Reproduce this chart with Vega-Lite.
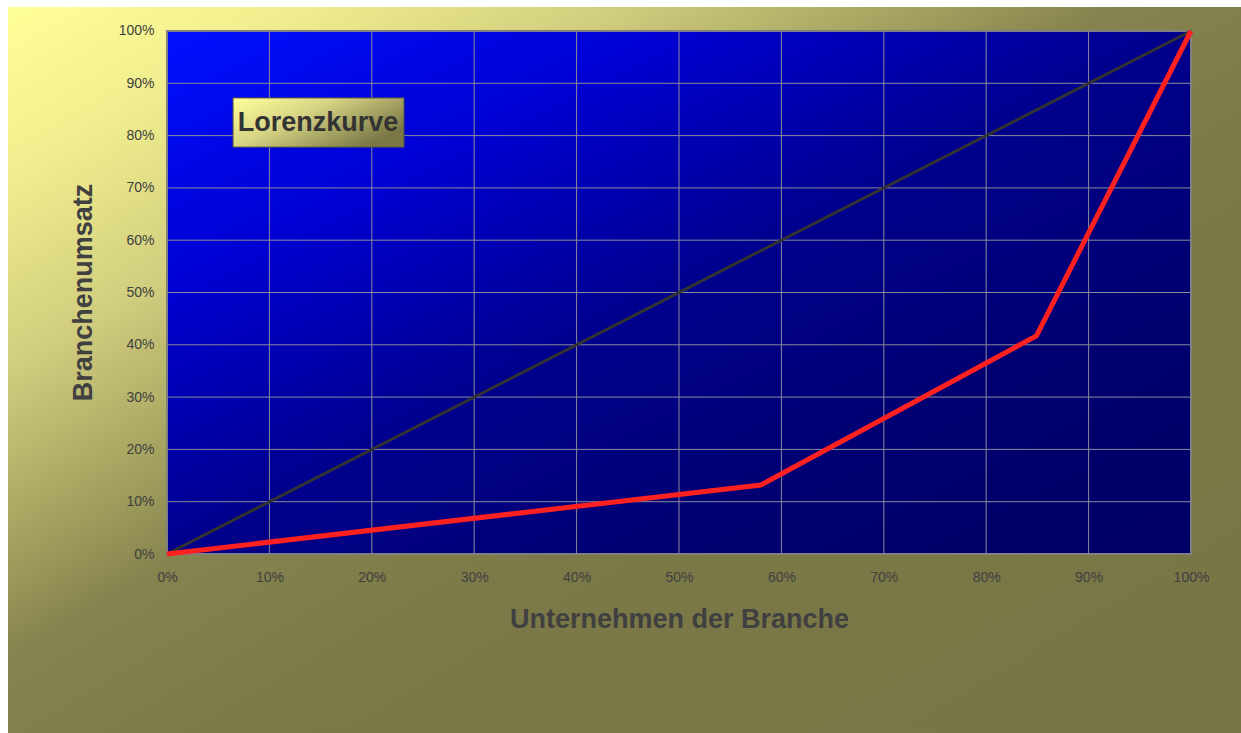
{
  "$schema": "https://vega.github.io/schema/vega-lite/v6.json",
  "width": 1233,
  "height": 726,
  "autosize": {"type": "none"},
  "padding": {"left": 8, "top": 7, "right": 0, "bottom": 0},
  "background": "#ffffff",
  "config": {
    "view": {
      "stroke": null,
      "fill": {
        "gradient": "linear", "x1": 0, "y1": 0, "x2": 1, "y2": 1,
        "stops": [
          {"offset": 0, "color": "#ffff99"},
          {"offset": 0.12, "color": "#f0ed8e"},
          {"offset": 0.25, "color": "#d0cd7e"},
          {"offset": 0.36, "color": "#a8a562"},
          {"offset": 0.45, "color": "#85834e"},
          {"offset": 0.6, "color": "#7b7947"},
          {"offset": 1, "color": "#777545"}
        ]
      }
    },
    "font": "Liberation Sans"
  },
  "datasets": {
    "grid": [{"v": 0.1}, {"v": 0.2}, {"v": 0.3}, {"v": 0.4}, {"v": 0.5}, {"v": 0.6}, {"v": 0.7}, {"v": 0.8}, {"v": 0.9}],
    "lorenz": [{"x": 0, "y": 0}, {"x": 0.58, "y": 0.132}, {"x": 0.849, "y": 0.417}, {"x": 1, "y": 1}],
    "diag": [{"x": 0, "y": 0}, {"x": 1, "y": 1}],
    "label": [{"text": "Lorenzkurve"}]
  },
  "layer": [
    {
      "data": {"name": "label"},
      "mark": {
        "type": "rect",
        "stroke": "#808080",
        "strokeWidth": 2,
        "fill": {
          "gradient": "linear", "x1": 0, "y1": 0, "x2": 1, "y2": 1,
          "stops": [
            {"offset": 0, "color": "#0010ff"},
            {"offset": 0.25, "color": "#0000d2"},
            {"offset": 0.5, "color": "#00008c"},
            {"offset": 0.75, "color": "#000070"},
            {"offset": 1, "color": "#000066"}
          ]
        }
      },
      "encoding": {
        "x": {"datum": 0, "type": "quantitative", "title": "Unternehmen der Branche",
          "scale": {"domain": [-0.155273, 1.048828], "nice": false, "zero": false},
          "axis": {"orient": "bottom", "offset": -179, "values": [0, 0.1, 0.2, 0.3, 0.4, 0.5, 0.6, 0.7, 0.8, 0.9, 1], "format": ".0%", "grid": false, "domain": false, "ticks": false, "labelPadding": 16, "labelFontSize": 14, "labelColor": "#404040", "titleFontSize": 27, "titleFontWeight": "bold", "titleColor": "#404040", "titlePadding": 22, "titleX": 671, "labelFont": "Liberation Sans", "titleFont": "Liberation Sans"}},
        "x2": {"datum": 1},
        "y": {"datum": 0, "type": "quantitative", "title": "Branchenumsatz",
          "scale": {"domain": [-0.342256, 1.045889], "nice": false, "zero": false},
          "axis": {"orient": "left", "offset": -159, "values": [0, 0.1, 0.2, 0.3, 0.4, 0.5, 0.6, 0.7, 0.8, 0.9, 1], "format": ".0%", "grid": false, "domain": false, "ticks": false, "labelPadding": 13, "labelFontSize": 14, "labelColor": "#404040", "titleFontSize": 27, "titleFontWeight": "bold", "titleColor": "#404040", "titlePadding": 21, "titleY": 285, "labelFont": "Liberation Sans", "titleFont": "Liberation Sans"}},
        "y2": {"datum": 1}
      }
    },
    {
      "data": {"name": "grid"},
      "mark": {"type": "rule", "color": "#8a8a9a", "strokeWidth": 1},
      "encoding": {
        "x": {"field": "v", "type": "quantitative", "title": "Unternehmen der Branche",
          "scale": {"domain": [-0.155273, 1.048828], "nice": false, "zero": false},
          "axis": {"orient": "bottom", "offset": -179, "values": [0, 0.1, 0.2, 0.3, 0.4, 0.5, 0.6, 0.7, 0.8, 0.9, 1], "format": ".0%", "grid": false, "domain": false, "ticks": false, "labelPadding": 16, "labelFontSize": 14, "labelColor": "#404040", "titleFontSize": 27, "titleFontWeight": "bold", "titleColor": "#404040", "titlePadding": 22, "titleX": 671, "labelFont": "Liberation Sans", "titleFont": "Liberation Sans"}},
        "y": {"datum": 0, "type": "quantitative", "title": "Branchenumsatz",
          "scale": {"domain": [-0.342256, 1.045889], "nice": false, "zero": false},
          "axis": {"orient": "left", "offset": -159, "values": [0, 0.1, 0.2, 0.3, 0.4, 0.5, 0.6, 0.7, 0.8, 0.9, 1], "format": ".0%", "grid": false, "domain": false, "ticks": false, "labelPadding": 13, "labelFontSize": 14, "labelColor": "#404040", "titleFontSize": 27, "titleFontWeight": "bold", "titleColor": "#404040", "titlePadding": 21, "titleY": 285, "labelFont": "Liberation Sans", "titleFont": "Liberation Sans"}},
        "y2": {"datum": 1}
      }
    },
    {
      "data": {"name": "grid"},
      "mark": {"type": "rule", "color": "#8a8a9a", "strokeWidth": 1},
      "encoding": {
        "y": {"field": "v", "type": "quantitative", "title": "Branchenumsatz",
          "scale": {"domain": [-0.342256, 1.045889], "nice": false, "zero": false},
          "axis": {"orient": "left", "offset": -159, "values": [0, 0.1, 0.2, 0.3, 0.4, 0.5, 0.6, 0.7, 0.8, 0.9, 1], "format": ".0%", "grid": false, "domain": false, "ticks": false, "labelPadding": 13, "labelFontSize": 14, "labelColor": "#404040", "titleFontSize": 27, "titleFontWeight": "bold", "titleColor": "#404040", "titlePadding": 21, "titleY": 285, "labelFont": "Liberation Sans", "titleFont": "Liberation Sans"}},
        "x": {"datum": 0, "type": "quantitative", "title": "Unternehmen der Branche",
          "scale": {"domain": [-0.155273, 1.048828], "nice": false, "zero": false},
          "axis": {"orient": "bottom", "offset": -179, "values": [0, 0.1, 0.2, 0.3, 0.4, 0.5, 0.6, 0.7, 0.8, 0.9, 1], "format": ".0%", "grid": false, "domain": false, "ticks": false, "labelPadding": 16, "labelFontSize": 14, "labelColor": "#404040", "titleFontSize": 27, "titleFontWeight": "bold", "titleColor": "#404040", "titlePadding": 22, "titleX": 671, "labelFont": "Liberation Sans", "titleFont": "Liberation Sans"}},
        "x2": {"datum": 1}
      }
    },
    {
      "data": {"name": "diag"},
      "mark": {"type": "line", "color": "#333333", "strokeWidth": 3},
      "encoding": {
        "x": {"field": "x", "type": "quantitative", "title": "Unternehmen der Branche",
          "scale": {"domain": [-0.155273, 1.048828], "nice": false, "zero": false},
          "axis": {"orient": "bottom", "offset": -179, "values": [0, 0.1, 0.2, 0.3, 0.4, 0.5, 0.6, 0.7, 0.8, 0.9, 1], "format": ".0%", "grid": false, "domain": false, "ticks": false, "labelPadding": 16, "labelFontSize": 14, "labelColor": "#404040", "titleFontSize": 27, "titleFontWeight": "bold", "titleColor": "#404040", "titlePadding": 22, "titleX": 671, "labelFont": "Liberation Sans", "titleFont": "Liberation Sans"}},
        "y": {"field": "y", "type": "quantitative", "title": "Branchenumsatz",
          "scale": {"domain": [-0.342256, 1.045889], "nice": false, "zero": false},
          "axis": {"orient": "left", "offset": -159, "values": [0, 0.1, 0.2, 0.3, 0.4, 0.5, 0.6, 0.7, 0.8, 0.9, 1], "format": ".0%", "grid": false, "domain": false, "ticks": false, "labelPadding": 13, "labelFontSize": 14, "labelColor": "#404040", "titleFontSize": 27, "titleFontWeight": "bold", "titleColor": "#404040", "titlePadding": 21, "titleY": 285, "labelFont": "Liberation Sans", "titleFont": "Liberation Sans"}}
      }
    },
    {
      "data": {"name": "lorenz"},
      "mark": {"type": "line", "color": "#ff2020", "strokeWidth": 5, "strokeJoin": "miter"},
      "encoding": {
        "x": {"field": "x", "type": "quantitative", "title": "Unternehmen der Branche",
          "scale": {"domain": [-0.155273, 1.048828], "nice": false, "zero": false},
          "axis": {"orient": "bottom", "offset": -179, "values": [0, 0.1, 0.2, 0.3, 0.4, 0.5, 0.6, 0.7, 0.8, 0.9, 1], "format": ".0%", "grid": false, "domain": false, "ticks": false, "labelPadding": 16, "labelFontSize": 14, "labelColor": "#404040", "titleFontSize": 27, "titleFontWeight": "bold", "titleColor": "#404040", "titlePadding": 22, "titleX": 671, "labelFont": "Liberation Sans", "titleFont": "Liberation Sans"}},
        "y": {"field": "y", "type": "quantitative", "title": "Branchenumsatz",
          "scale": {"domain": [-0.342256, 1.045889], "nice": false, "zero": false},
          "axis": {"orient": "left", "offset": -159, "values": [0, 0.1, 0.2, 0.3, 0.4, 0.5, 0.6, 0.7, 0.8, 0.9, 1], "format": ".0%", "grid": false, "domain": false, "ticks": false, "labelPadding": 13, "labelFontSize": 14, "labelColor": "#404040", "titleFontSize": 27, "titleFontWeight": "bold", "titleColor": "#404040", "titlePadding": 21, "titleY": 285, "labelFont": "Liberation Sans", "titleFont": "Liberation Sans"}}
      }
    },
    {
      "data": {"name": "label"},
      "mark": {
        "type": "rect",
        "stroke": "#5a5a3a",
        "strokeWidth": 1,
        "fill": {
          "gradient": "linear", "x1": 0, "y1": 0, "x2": 1, "y2": 0.6,
          "stops": [
            {"offset": 0, "color": "#ffff99"},
            {"offset": 0.45, "color": "#d6d384"},
            {"offset": 1, "color": "#7a7846"}
          ]
        }
      },
      "encoding": {
        "x": {"datum": 0.0645, "type": "quantitative", "scale": {"domain": [-0.155273, 1.048828], "nice": false, "zero": false}, "title": "Unternehmen der Branche",
          "axis": {"orient": "bottom", "offset": -179, "values": [0, 0.1, 0.2, 0.3, 0.4, 0.5, 0.6, 0.7, 0.8, 0.9, 1], "format": ".0%", "grid": false, "domain": false, "ticks": false, "labelPadding": 16, "labelFontSize": 14, "labelColor": "#404040", "titleFontSize": 27, "titleFontWeight": "bold", "titleColor": "#404040", "titlePadding": 22, "titleX": 671, "labelFont": "Liberation Sans", "titleFont": "Liberation Sans"}},
        "x2": {"datum": 0.2314},
        "y": {"datum": 0.778, "type": "quantitative", "scale": {"domain": [-0.342256, 1.045889], "nice": false, "zero": false}, "title": "Branchenumsatz",
          "axis": {"orient": "left", "offset": -159, "values": [0, 0.1, 0.2, 0.3, 0.4, 0.5, 0.6, 0.7, 0.8, 0.9, 1], "format": ".0%", "grid": false, "domain": false, "ticks": false, "labelPadding": 13, "labelFontSize": 14, "labelColor": "#404040", "titleFontSize": 27, "titleFontWeight": "bold", "titleColor": "#404040", "titlePadding": 21, "titleY": 285, "labelFont": "Liberation Sans", "titleFont": "Liberation Sans"}},
        "y2": {"datum": 0.872}
      }
    },
    {
      "data": {"name": "label"},
      "mark": {"type": "text", "fontSize": 27, "fontWeight": "bold", "color": "#333333", "font": "Liberation Sans", "align": "center", "baseline": "middle"},
      "encoding": {
        "text": {"field": "text"},
        "x": {"datum": 0.1475, "type": "quantitative", "scale": {"domain": [-0.155273, 1.048828], "nice": false, "zero": false}, "title": "Unternehmen der Branche",
          "axis": {"orient": "bottom", "offset": -179, "values": [0, 0.1, 0.2, 0.3, 0.4, 0.5, 0.6, 0.7, 0.8, 0.9, 1], "format": ".0%", "grid": false, "domain": false, "ticks": false, "labelPadding": 16, "labelFontSize": 14, "labelColor": "#404040", "titleFontSize": 27, "titleFontWeight": "bold", "titleColor": "#404040", "titlePadding": 22, "titleX": 671, "labelFont": "Liberation Sans", "titleFont": "Liberation Sans"}},
        "y": {"datum": 0.825, "type": "quantitative", "scale": {"domain": [-0.342256, 1.045889], "nice": false, "zero": false}, "title": "Branchenumsatz",
          "axis": {"orient": "left", "offset": -159, "values": [0, 0.1, 0.2, 0.3, 0.4, 0.5, 0.6, 0.7, 0.8, 0.9, 1], "format": ".0%", "grid": false, "domain": false, "ticks": false, "labelPadding": 13, "labelFontSize": 14, "labelColor": "#404040", "titleFontSize": 27, "titleFontWeight": "bold", "titleColor": "#404040", "titlePadding": 21, "titleY": 285, "labelFont": "Liberation Sans", "titleFont": "Liberation Sans"}}
      }
    }
  ]
}
